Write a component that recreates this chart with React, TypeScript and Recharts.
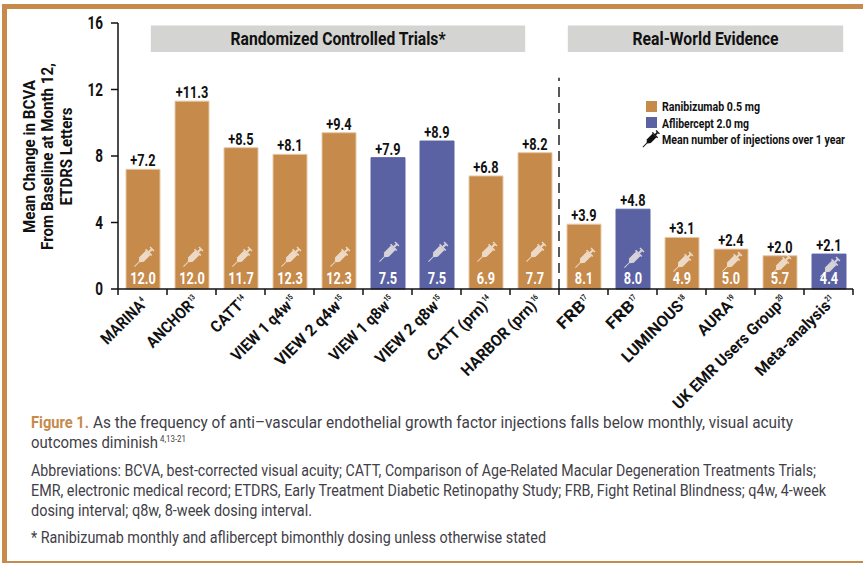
import { BarChart, Bar, Cell, XAxis, YAxis, LabelList, ReferenceArea, ReferenceLine } from "recharts";

const trials = ["MARINA", "ANCHOR", "CATT", "VIEW 1 q4w", "VIEW 2 q4w", "VIEW 1 q8w", "VIEW 2 q8w", "CATT (prn)", "HARBOR (prn)", "FRB", "FRB", "LUMINOUS", "AURA", "UK EMR Users Group", "Meta-analysis"];
const citations = ["4", "13", "14", "15", "15", "15", "15", "14", "16", "17", "17", "18", "19", "20", "21"];
const letterChange = [7.2, 11.3, 8.5, 8.1, 9.4, 7.9, 8.9, 6.8, 8.2, 3.9, 4.8, 3.1, 2.4, 2.0, 2.1];
const injections = [12.0, 12.0, 11.7, 12.3, 12.3, 7.5, 7.5, 6.9, 7.7, 8.1, 8.0, 4.9, 5.0, 5.7, 4.4];
const drugs = ["R", "R", "R", "R", "R", "A", "A", "R", "R", "R", "A", "R", "R", "R", "A"];
const yTicks = [0, 4, 8, 12, 16];

const chartData = trials.map((name, i) => ({
  slot: i,
  name,
  change: letterChange[i],
  injections: injections[i],
  drug: drugs[i],
}));

// the reference uses a condensed face, nothing like it is installed so Roboto gets squeezed
const FONT = "Roboto, sans-serif";
const ORANGE = "#c68a4b";
const BLUE = "#5a62a4";
const INK = "#111";
const GREY_TEXT = "#3f4048";
const BAND = 49;

// how far the syringe sits above the axis, per bar
const iconLift = [32, 32, 32, 32, 32, 37, 37, 37, 37, 31, 31, 27, 27, 24, 22];
// rotated label lengths, Roboto's caps are too wide for one squeeze factor to fit them all
const labelLength = [54, 59, 38, 78, 85, 78, 82, 78, 99, 33, 33, 80, 42, 146, 99];

// the hidden position axis comes out as 0..14 whatever the domain says, so convert from bar slots
const slotPos = (n: number) => (n * 14) / 15;

function Squeezed({ x, y, size = 17, squeeze = 0.75, anchor = "middle", fill = INK, weight = 700, children }: any) {
  return (
    <text
      transform={`translate(${x},${y}) scale(${squeeze},1)`}
      textAnchor={anchor}
      fontFamily={FONT}
      fontWeight={weight}
      fontSize={size}
      fill={fill}
    >
      {children}
    </text>
  );
}

// fixed width text, x to x + width
function Fitted({ x, y, width, size = 16.5, fill = GREY_TEXT, weight = 400, children }: any) {
  return (
    <text x={x} y={y} textLength={width} lengthAdjust="spacingAndGlyphs" fontFamily={FONT} fontWeight={weight} fontSize={size} fill={fill}>
      {children}
    </text>
  );
}

function Syringe({ x, y, fill, opacity = 0.8, scale = 1 }: { x: number; y: number; fill: string; opacity?: number; scale?: number }) {
  return (
    <g transform={`translate(${x},${y}) rotate(45) scale(${scale})`} fill={fill} opacity={opacity}>
      <path d="M-3.2,-6 L3.2,-6 L3.2,3.5 L0.8,6.5 L-0.8,6.5 L-3.2,3.5 Z" />
      <rect x={-4.4} y={-7.4} width={8.8} height={1.6} />
      <rect x={-1} y={-11} width={2} height={4} />
      <rect x={-2.8} y={-12} width={5.6} height={1.5} />
      <rect x={-0.5} y={6} width={1} height={7.5} />
    </g>
  );
}

function TrialTick({ x, y, payload }: any) {
  const i = payload.value;
  const last = i === trials.length - 1;
  const len = labelLength[i];
  return (
    <g>
      <line x1={x - BAND / 2} x2={x - BAND / 2} y1={y} y2={y + 6} stroke={INK} strokeWidth={1.5} />
      {last && <line x1={x + BAND / 2} x2={x + BAND / 2} y1={y} y2={y + 6} stroke={INK} strokeWidth={1.5} />}
      <g transform={`translate(${x + 8},${y + 13}) rotate(-45)`}>
        <Fitted x={-7 - len} y={0} width={len} size={16} fill={INK} weight={700}>{trials[i]}</Fitted>
        <Squeezed x={-6.5} y={-6} size={8} anchor="start">{citations[i]}</Squeezed>
      </g>
    </g>
  );
}

function ValueTick({ x, y, payload }: any) {
  return <Squeezed x={x - 6} y={y + 6} anchor="end" size={18}>{payload.value}</Squeezed>;
}

function ChangeMark({ x, y, width, value }: any) {
  return <Squeezed x={x + width / 2} y={y - 3}>{`+${Number(value).toFixed(1)}`}</Squeezed>;
}

function InjectionMark({ x, y, width, height, index }: any) {
  const base = y + height;
  const cx = x + width / 2;
  return (
    <g>
      <Syringe x={cx + 1} y={base - iconLift[index]} fill="#f6efe6" />
      <Squeezed x={cx} y={base - 5} fill="#fff">{injections[index].toFixed(1)}</Squeezed>
    </g>
  );
}

function AxisTitle() {
  const lines = [
    { text: "Mean Change in BCVA", x: 35, width: 153 },
    { text: "From Baseline at Month 12,", x: 53, width: 187 },
    { text: "ETDRS Letters", x: 72, width: 98 },
  ];
  return (
    <g>
      {lines.map((l) => (
        <g key={l.text} transform={`translate(${l.x},156.5) rotate(-90)`}>
          <Fitted x={-l.width / 2} y={0} width={l.width} size={17} fill={INK} weight={700}>{l.text}</Fitted>
        </g>
      ))}
    </g>
  );
}

function BandLabel({ viewBox, text, width }: any) {
  return (
    <Fitted x={viewBox.x + viewBox.width / 2 - width / 2} y={viewBox.y + viewBox.height / 2 + 6} width={width} size={18} fill={INK} weight={700}>
      {text}
    </Fitted>
  );
}

function ChartLegend() {
  return (
    <g>
      <rect x={646} y={101} width={11} height={11} fill={ORANGE} />
      <rect x={646} y={117} width={11} height={11} fill={BLUE} />
      <Syringe x={651} y={139} fill={INK} opacity={1} scale={0.85} />
      <Fitted x={662} y={111} width={98} size={13} fill={INK} weight={700}>Ranibizumab 0.5 mg</Fitted>
      <Fitted x={662} y={128} width={87} size={13} fill={INK} weight={700}>Aflibercept 2.0 mg</Fitted>
      <Fitted x={662} y={144} width={183} size={13} fill={INK} weight={700}>Mean number of injections over 1 year</Fitted>
    </g>
  );
}

function Caption() {
  return (
    <g>
      <Fitted x={31} y={428} width={58} size={17} fill={ORANGE} weight={700}>Figure 1.</Fitted>
      <Fitted x={93} y={428} width={700}>As the frequency of anti–vascular endothelial growth factor injections falls below monthly, visual acuity</Fitted>
      <Fitted x={31} y={448} width={127}>outcomes diminish</Fitted>
      <Fitted x={160} y={442} width={26} size={9}>4,13-21</Fitted>
      <Fitted x={31} y={476} width={785} size={16}>Abbreviations: BCVA, best-corrected visual acuity; CATT, Comparison of Age-Related Macular Degeneration Treatments Trials;</Fitted>
      <Fitted x={31} y={496} width={795} size={16}>EMR, electronic medical record; ETDRS, Early Treatment Diabetic Retinopathy Study; FRB, Fight Retinal Blindness; q4w, 4-week</Fitted>
      <Fitted x={31} y={516} width={281} size={16}>dosing interval; q8w, 8-week dosing interval.</Fitted>
      <Fitted x={31} y={543} width={515} size={16}>* Ranibizumab monthly and aflibercept bimonthly dosing unless otherwise stated</Fitted>
    </g>
  );
}

export default function App() {
  return (
    <div style={{ position: "absolute", left: 0, top: 0, width: 863, height: 564, background: "#fff", overflow: "hidden" }}>
      <div style={{ position: "absolute", left: 2, top: 4, width: 861, height: 559, boxSizing: "border-box", borderTop: `5px solid ${ORANGE}`, borderLeft: `5px solid ${ORANGE}`, borderBottom: `2px solid ${ORANGE}` }} />
      <BarChart
        width={863}
        height={564}
        data={chartData}
        margin={{ top: 23, right: 10, bottom: 145, left: 58 }}
        style={{ position: "absolute", left: 0, top: 0 }}
      >
        <XAxis
          dataKey="slot"
          height={130}
          interval={0}
          tick={<TrialTick />}
          tickLine={false}
          tickSize={0}
          tickMargin={0}
          axisLine={{ stroke: INK, strokeWidth: 1.5 }}
        />
        <XAxis xAxisId="pos" type="number" domain={[0, 14]} allowDataOverflow hide />
        <YAxis
          width={60}
          domain={[0, 16]}
          ticks={yTicks}
          tickSize={7}
          tick={<ValueTick />}
          tickLine={{ stroke: INK, strokeWidth: 1.5 }}
          axisLine={{ stroke: INK, strokeWidth: 1.5 }}
          label={<AxisTitle />}
        />
        <ReferenceArea xAxisId="pos" x1={slotPos(0.67)} x2={slotPos(8.31)} y1={14.25} y2={15.85} fill="#d4d4d2" fillOpacity={1} stroke="none" label={<BandLabel text="Randomized Controlled Trials*" width={215} />} />
        <ReferenceArea xAxisId="pos" x1={slotPos(9.18)} x2={slotPos(14.8)} y1={14.25} y2={15.85} fill="#d4d4d2" fillOpacity={1} stroke="none" label={<BandLabel text="Real-World Evidence" width={146} />} />
        <Bar dataKey="change" barSize={34} isAnimationActive={false}>
          {chartData.map((d) => (
            <Cell key={d.slot} fill={d.drug === "A" ? BLUE : ORANGE} stroke={d.drug === "A" ? BLUE : "#e6c8a6"} strokeWidth={1} />
          ))}
          <LabelList dataKey="change" content={<ChangeMark />} />
          <LabelList dataKey="injections" content={<InjectionMark />} />
        </Bar>
        <ReferenceLine
          xAxisId="pos"
          segment={[{ x: slotPos(9), y: 0 }, { x: slotPos(9), y: 12.7 }]}
          stroke="#222"
          strokeWidth={1.5}
          strokeDasharray="10 6"
        />
      </BarChart>
      <svg width={863} height={564} style={{ position: "absolute", left: 0, top: 0, pointerEvents: "none" }}>
        <ChartLegend />
        <Caption />
      </svg>
    </div>
  );
}
